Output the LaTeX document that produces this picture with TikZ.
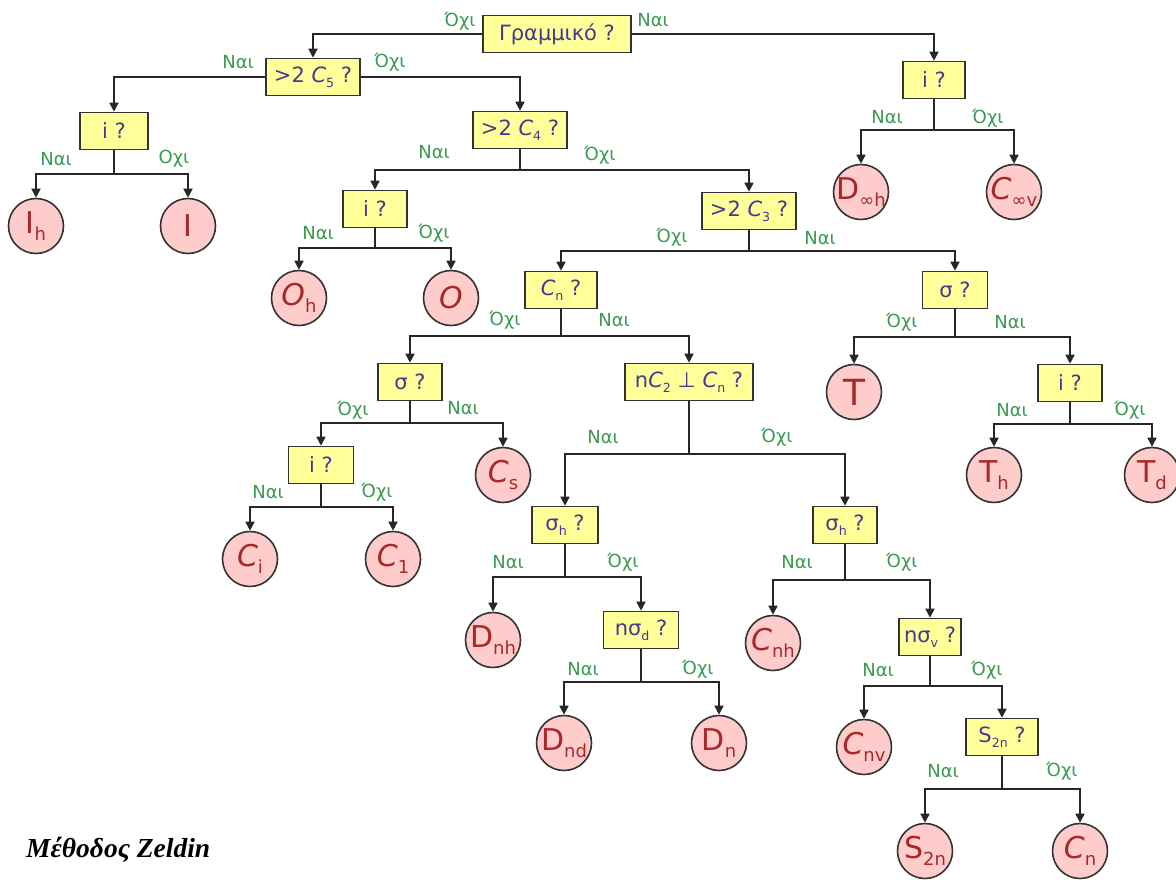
\documentclass[tikz,border=0pt]{standalone}
\usepackage{graphicx}
\usepackage{fontspec}
\setmainfont{DejaVu Sans}
\newfontfamily\zfont{Liberation Serif}
\usetikzlibrary{arrows.meta}
\definecolor{qcol}{HTML}{46398F}
\definecolor{leafcol}{HTML}{A82828}
\definecolor{labcol}{HTML}{3A9A50}
\definecolor{boxfill}{HTML}{FFFF99}
\definecolor{leaffill}{HTML}{FFCCCC}
\definecolor{edgecol}{HTML}{333333}
\newcommand\lsub[1]{\raisebox{-0.45ex}{\scalebox{0.6}{#1}}}
\newcommand\lf[1]{\makebox[0pt]{#1}}
\newcommand\branch[4]{%
  \coordinate (j#1) at (#1.south |- 0,#2);
  \draw[ln] (#1.south) -- (j#1);
  \draw[arr] (j#1) -| (#3.north);
  \draw[arr] (j#1) -| (#4.north);}
\begin{document}
\begin{tikzpicture}[x=1pt,y=-1pt,
  qbox/.style={draw=edgecol, line width=1.6pt, fill=boxfill, minimum height=37pt,
    inner sep=0pt, text=qcol, font=\fontsize{21}{24}\selectfont},
  leaf/.style={circle, draw=edgecol, line width=1.6pt, fill=leaffill, minimum size=55pt,
    inner sep=0pt, text=leafcol, font=\fontsize{30}{34}\selectfont},
  lab/.style={text=labcol, font=\fontsize{18}{20}\selectfont, inner sep=0pt},
  ln/.style={line width=1.6pt, draw=black!85},
  arr/.style={ln, -{Triangle[length=9pt,width=9pt]}}]
\useasboundingbox (0,0) rectangle (1176,880);
\fill[white] (0,0) rectangle (1176,880);
% question boxes
\node[qbox, minimum width=148pt] (root) at (557,34) {Γραμμικό ?};
\node[qbox, minimum width=94pt] (c5) at (313,77) {>2 \textit{C}\lsub{5} ?};
\node[qbox, minimum width=68pt] (i1) at (114,131) {i ?};
\node[qbox, minimum width=94pt] (c4) at (520,130) {>2 \textit{C}\lsub{4} ?};
\node[qbox, minimum width=64pt] (i2) at (375,209) {i ?};
\node[qbox, minimum width=94pt] (c3) at (749,211) {>2 \textit{C}\lsub{3} ?};
\node[qbox, minimum width=72pt] (cn) at (561,290) {\textit{C}\lsub{n} ?};
\node[qbox, minimum width=65pt] (s1) at (955,290) {σ ?};
\node[qbox, minimum width=64pt] (i3) at (1070,383) {i ?};
\node[qbox, minimum width=62pt] (i4) at (934,80) {i ?};
\node[qbox, minimum width=64pt] (s2) at (410,382) {σ ?};
\node[qbox, minimum width=65pt] (i5) at (321,465) {i ?};
\node[qbox, minimum width=128pt] (perp) at (689,382) {n\textit{C}\lsub{2} ⊥ \textit{C}\lsub{n} ?};
\node[qbox, minimum width=66pt] (sh1) at (565,525) {σ\lsub{h} ?};
\node[qbox, minimum width=75pt] (nsd) at (641,630) {nσ\lsub{d} ?};
\node[qbox, minimum width=64pt] (sh2) at (845,525) {σ\lsub{h} ?};
\node[qbox, minimum width=62pt] (nsv) at (930,637) {nσ\lsub{v} ?};
\node[qbox, minimum width=72pt] (s2n) at (1002,737) {S\lsub{2n} ?};
% leaves
\node[leaf] (Ih) at (36,226) {\lf{I\lsub{h}}};
\node[leaf] (I) at (188,226) {\lf{I}};
\node[leaf] (Oh) at (299,298) {\lf{\textit{O}\lsub{h}}};
\node[leaf] (O) at (451,298) {\lf{\textit{O}}};
\node[leaf] (T) at (854,392) {\lf{\fontsize{36}{40}\selectfont T}};
\node[leaf] (Th) at (994,475) {\lf{T\lsub{h}}};
\node[leaf] (Td) at (1152,475) {\lf{T\lsub{d}}};
\node[leaf] (Dih) at (861,192) {\lf{D\lsub{∞h}}};
\node[leaf] (Civ) at (1014,192) {\lf{\textit{C}\lsub{∞v}}};
\node[leaf] (Cs) at (503,475) {\lf{\textit{C}\lsub{s}}};
\node[leaf] (Ci) at (250,559) {\lf{\textit{C}\lsub{i}}};
\node[leaf] (C1) at (393,559) {\lf{\textit{C}\lsub{1}}};
\node[leaf] (Dnh) at (493,640) {\lf{D\lsub{nh}}};
\node[leaf] (Dnd) at (564,743) {\lf{D\lsub{nd}}};
\node[leaf] (Dn) at (719,743) {\lf{D\lsub{n}}};
\node[leaf] (Cnh) at (773,643) {\lf{\textit{C}\lsub{nh}}};
\node[leaf] (Cnv) at (864,747) {\lf{\textit{C}\lsub{nv}}};
\node[leaf] (S2n) at (925,851) {\lf{S\lsub{2n}}};
\node[leaf] (Cnn) at (1080,851) {\lf{\textit{C}\lsub{n}}};
% connectors
\draw[arr] (root.west) -| (c5.north);
\draw[arr] (root.east) -| (i4.north);
\draw[arr] (c5.west) -| (i1.north);
\draw[arr] (c5.east) -| (c4.north);
\branch{i1}{174}{Ih}{I}
\branch{c4}{170}{i2}{c3}
\branch{i2}{248}{Oh}{O}
\branch{c3}{251}{cn}{s1}
\branch{cn}{336}{s2}{perp}
\branch{s1}{337}{T}{i3}
\branch{i3}{424}{Th}{Td}
\branch{i4}{130}{Dih}{Civ}
\branch{s2}{423}{i5}{Cs}
\branch{i5}{507}{Ci}{C1}
\branch{perp}{454}{sh1}{sh2}
\branch{sh1}{577}{Dnh}{nsd}
\branch{nsd}{682}{Dnd}{Dn}
\branch{sh2}{580}{Cnh}{nsv}
\branch{nsv}{686}{Cnv}{s2n}
\branch{s2n}{789}{S2n}{Cnn}
% labels
\node[lab] (l1) at (460,21) {Όχι};
\node[lab] (l2) at (653,20) {Ναι};
\node[lab] (l3) at (238,62) {Ναι};
\node[lab] (l4) at (390,62) {Όχι};
\node[lab] (l5) at (56,159) {Ναι};
\node[lab] (l6) at (174,159) {Οχι};
\node[lab] (l7) at (434,152) {Ναι};
\node[lab] (l8) at (600,155) {Όχι};
\node[lab] (l9) at (318,233) {Ναι};
\node[lab] (l10) at (434,233) {Όχι};
\node[lab] (l11) at (672,237) {Όχι};
\node[lab] (l12) at (820,238) {Ναι};
\node[lab] (l13) at (505,320) {Όχι};
\node[lab] (l14) at (614,320) {Ναι};
\node[lab] (l15) at (902,322) {Όχι};
\node[lab] (l16) at (1010,322) {Ναι};
\node[lab] (l17) at (1012,410) {Ναι};
\node[lab] (l18) at (1130,410) {Όχι};
\node[lab] (l19) at (887,117) {Ναι};
\node[lab] (l20) at (988,118) {Όχι};
\node[lab] (l21) at (353,410) {Όχι};
\node[lab] (l22) at (463,408) {Ναι};
\node[lab] (l23) at (268,492) {Ναι};
\node[lab] (l24) at (377,492) {Όχι};
\node[lab] (l25) at (603,437) {Ναι};
\node[lab] (l26) at (777,437) {Όχι};
\node[lab] (l27) at (508,562) {Ναι};
\node[lab] (l28) at (623,562) {Όχι};
\node[lab] (l29) at (583,669) {Ναι};
\node[lab] (l30) at (698,669) {Όχι};
\node[lab] (l31) at (797,562) {Ναι};
\node[lab] (l32) at (902,562) {Όχι};
\node[lab] (l33) at (878,670) {Ναι};
\node[lab] (l34) at (987,670) {Όχι};
\node[lab] (l35) at (943,771) {Ναι};
\node[lab] (l36) at (1062,771) {Όχι};
% title
\node[anchor=west, inner sep=0pt, font=\zfont\bfseries\itshape\fontsize{27.5}{30}\selectfont] (title) at (26,850) {Μέθοδος Zeldin};
\end{tikzpicture}
\end{document}
